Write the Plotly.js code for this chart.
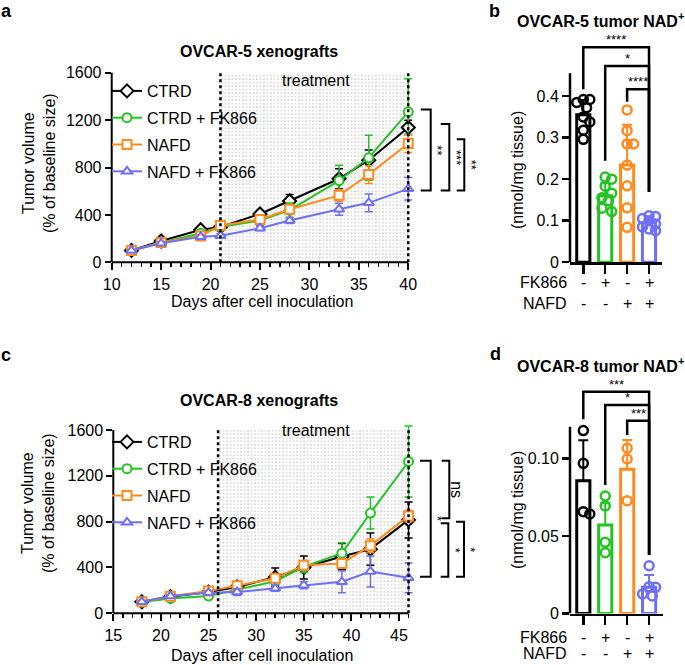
<!DOCTYPE html>
<html><head><meta charset="utf-8">
<script src="https://cdn.plot.ly/plotly-3.0.1.min.js"></script>
<style>html,body{margin:0;padding:0;background:#fff}</style>
</head><body><div id="chart" style="width:685px;height:665px"></div>
<script>
// ---------------- data ----------------
const seriesNames = ['CTRD', 'CTRD + FK866', 'NAFD', 'NAFD + FK866'];
const seriesColors = ['#000000', '#22c322', '#ff8b1f', '#6f6ff5'];
const seriesSymbols = ['diamond', 'circle', 'square', 'triangle-up'];

// Panel a: OVCAR-5 xenografts
const daysA = [12, 15, 19, 21, 25, 28, 33, 36, 40];
const ctrdA = [100, 180, 275, 298, 408, 518, 705, 862, 1138];
const ctrdFkA = [100, 165, 245, 300, 352, 440, 690, 882, 1270];
const nafdA = [100, 168, 222, 310, 362, 448, 565, 740, 1002];
const nafdFkA = [100, 160, 215, 225, 288, 352, 448, 502, 620];
const ctrdAErr = [6, 12, 18, 18, 22, 55, 85, 85, 60];
const ctrdFkAErr = [6, 12, 20, 20, 30, 60, 130, 190, 280];
const nafdAErr = [6, 12, 20, 20, 25, 35, 50, 75, 75];
const nafdFkAErr = [6, 12, 15, 15, 20, 25, 50, 75, 95];
const treatmentA = [21, 40];

// Panel c: OVCAR-8 xenografts
const daysC = [18, 21, 25, 28, 32, 35, 39, 42, 46];
const ctrdC = [100, 145, 185, 230, 315, 400, 495, 560, 815];
const ctrdFkC = [98, 130, 150, 205, 280, 405, 525, 875, 1325];
const nafdC = [100, 148, 195, 240, 305, 420, 435, 590, 850];
const nafdFkC = [100, 150, 180, 185, 218, 245, 275, 365, 310];
const ctrdCErr = [6, 12, 15, 30, 80, 100, 115, 140, 157];
const ctrdFkCErr = [6, 12, 15, 20, 30, 50, 90, 140, 310];
const nafdCErr = [6, 12, 15, 20, 30, 40, 40, 60, 50];
const nafdFkCErr = [6, 12, 15, 30, 25, 30, 95, 135, 130];
const treatmentC = [26, 46];

const volTicks = [0, 400, 800, 1200, 1600];

// Significance (a, c): bracket top / bottom values and labels
const sigTopA = [1290, 1167, 1038];
const sigBotA = [605, 605, 605];
const sigLabA = ['**', '***', '**'];
const sigTopC = [1332, 1332, 786, 800];
const sigBotC = [319, 829, 319, 319];
const sigLabC = ['*', 'ns', '*', '*'];

// Panel b: OVCAR-5 tumor NAD+
const fkRow = ['-', '+', '-', '+'];
const nafdRow = ['-', '-', '+', '+'];
const meanB = [0.355, 0.16, 0.234, 0.095];
const sdB = [0.036, 0.03, 0.097, 0.014];
const ptsB0 = [0.392, 0.392, 0.385, 0.372, 0.35, 0.338, 0.318, 0.296];
const ptsB1 = [0.205, 0.2, 0.183, 0.166, 0.155, 0.148, 0.13, 0.122];
const ptsB2 = [0.367, 0.317, 0.285, 0.285, 0.234, 0.184, 0.131, 0.084];
const ptsB3 = [0.112, 0.11, 0.105, 0.1, 0.092, 0.085, 0.08, 0.076];
const ticksB = [0, 0.1, 0.2, 0.3, 0.4];
const sigPairB = [[0, 3], [1, 3], [2, 3]];
const sigLevelB = [0.518, 0.473, 0.4166];
const sigLegB = [0.4166, 0.2446, 0.3867];
const sigRightB = 0.17;
const sigLabB = ['****', '*', '****'];

// Panel d: OVCAR-8 tumor NAD+
const meanD = [0.0857, 0.0571, 0.093, 0.0169];
const sdD = [0.026, 0.014, 0.019, 0.008];
const ptsD0 = [0.118, 0.0969, 0.0657, 0.0642];
const ptsD1 = [0.0758, 0.0694, 0.0459, 0.0392];
const ptsD2 = [0.1066, 0.0997, 0.0728];
const ptsD3 = [0.0308, 0.0173, 0.0169, 0.0126, 0.0113];
const ticksD = [0, 0.05, 0.10];
const tickTextD = ['0', '0.05', '0.10'];
const sigPairD = [[0, 3], [1, 3], [2, 3]];
const sigLevelD = [0.1431, 0.1345, 0.1244];
const sigLegD = [0.1253, 0.0829, 0.1152];
const sigRightD = 0.0377;
const sigLabD = ['***', '*', '***'];

// ---------------- layout helpers ----------------
const W = 685, H = 665;
const px = x => x / W;
const py = y => 1 - y / H;
const FONT = 'Arial, "Liberation Sans", Helvetica, sans-serif';

const dom = {
  a: {x: [111.7, 413.2], y: [262.3, 66.8], xr: [10, 40.5], yr: [0, 1650]},
  c: {x: [113.3, 413.3], y: [613.3, 418.5], xr: [15, 46.5], yr: [0, 1700]},
  b: {x: [570, 662.3], y: [262.2, 36.0], xr: [-0.607, 3.607], yr: [0, 0.545]},
  d: {x: [570, 662.7], y: [613.5, 381.0], xr: [-0.607, 3.62], yr: [0, 0.15]}
};

const traces = [];
const shapes = [];
const annotations = [];

function ann(text, x, y, size, extra) {
  annotations.push(Object.assign({
    text: text, x: px(x), y: py(y), xref: 'paper', yref: 'paper',
    showarrow: false, xanchor: 'center', yanchor: 'middle',
    font: {family: FONT, size: size, color: '#000'}
  }, extra || {}));
}

// ---------------- line panels ----------------
function linePanel(days, series, errs, treat, xa, ya, legendName, sigTop, sigBot, sigLab, sigX) {
  const top = volTicks[volTicks.length - 1];
  // treatment shading (dotted texture)
  traces.push({
    type: 'scatter', mode: 'none', x: [treat[0], treat[1], treat[1], treat[0], treat[0]],
    y: [0, 0, top, top, 0],
    fill: 'toself', fillcolor: 'rgba(255,255,255,0)',
    fillpattern: {shape: '.', fgcolor: '#bcbcbc', bgcolor: '#ffffff', size: 3.5, solidity: 0.14},
    xaxis: xa, yaxis: ya, showlegend: false, hoverinfo: 'skip'
  });
  series.forEach((s, i) => {
    traces.push({
      type: 'scatter', mode: 'lines+markers', name: seriesNames[i], legendgroup: legendName + i,
      x: days, y: s, xaxis: xa, yaxis: ya, legend: legendName,
      line: {color: seriesColors[i], width: 2},
      marker: {symbol: seriesSymbols[i], size: i === 0 ? 10 : 9, color: '#ffffff',
               line: {color: seriesColors[i], width: 2}},
      error_y: {type: 'data', array: errs[i], visible: true, color: seriesColors[i], thickness: 1.5, width: 4},
      cliponaxis: false
    });
  });
  // dotted treatment boundaries
  treat.forEach(t => shapes.push({
    type: 'line', xref: xa, yref: ya, x0: t, x1: t, y0: 0, y1: top,
    line: {color: '#000', width: 2.5, dash: 'dot'}
  }));
  // axis lines
  shapes.push({type: 'line', xref: xa, yref: ya + ' domain', x0: days[0] - (days[0] % 5), x1: treat[1], y0: 0, y1: 0,
               line: {color: '#000', width: 2}});
  shapes.push({type: 'line', xref: xa + ' domain', yref: ya, x0: 0, x1: 0, y0: 0, y1: top,
               line: {color: '#000', width: 2}});
  // significance brackets
  sigTop.forEach((t, k) => {
    const x0 = px(sigX[k][0]), x1 = px(sigX[k][1]);
    shapes.push({type: 'path', xref: 'paper', yref: ya,
      path: `M ${x0} ${t} L ${x1} ${t} L ${x1} ${sigBot[k]} L ${x0} ${sigBot[k]}`,
      line: {color: '#000', width: 2}});
    annotations.push({text: sigLab[k], xref: 'paper', yref: ya, x: px(sigX[k][1] + 7), y: (t + sigBot[k]) / 2,
      textangle: 90, showarrow: false, xanchor: 'center', yanchor: 'middle',
      font: {family: FONT, size: sigLab[k] === 'ns' ? 16 : 13, color: '#000'}});
  });
}

linePanel(daysA, [ctrdA, ctrdFkA, nafdA, nafdFkA], [ctrdAErr, ctrdFkAErr, nafdAErr, nafdFkAErr],
  treatmentA, 'x', 'y', 'legend', sigTopA, sigBotA, sigLabA,
  [[420.7, 430.7], [440.7, 449.3], [456.7, 464.3]]);
linePanel(daysC, [ctrdC, ctrdFkC, nafdC, nafdFkC], [ctrdCErr, ctrdFkCErr, nafdCErr, nafdFkCErr],
  treatmentC, 'x3', 'y3', 'legend2', sigTopC, sigBotC, sigLabC,
  [[420, 430.7], [441.7, 449.3], [440.7, 448.3], [456, 464]]);

// ---------------- bar panels ----------------
function swarm(vals, center, d, kx, ky, maxOff) {
  // simple beeswarm in pixel space; allows slight overlap when crowded
  const order = vals.map((v, i) => i).sort((a, b) => vals[b] - vals[a]);
  const placed = [];
  const xs = new Array(vals.length);
  const step = maxOff / 2;
  const cands = [0, step, -step, 2 * step, -2 * step];
  order.forEach(i => {
    const yp = vals[i] * ky;
    let chosen = null, best = -1, bestC = 0;
    for (const c of cands) {
      const md = placed.length ? Math.min(...placed.map(p => Math.hypot(p.x - c, p.y - yp))) : Infinity;
      if (md >= d * 0.95) { chosen = c; break; }
      if (md > best + 0.5) { best = md; bestC = c; }
    }
    if (chosen === null) chosen = bestC;
    placed.push({x: chosen, y: yp});
    xs[i] = center + chosen / kx;
  });
  return xs;
}

function barPanel(key, means, sds, pts, xa, ya, sigPair, sigLevel, sigLeg, sigRight, sigLab) {
  const D = dom[key];
  const kx = (D.x[1] - D.x[0]) / (D.xr[1] - D.xr[0]);
  const ky = (D.y[0] - D.y[1]) / (D.yr[1] - D.yr[0]);
  means.forEach((m, i) => {
    traces.push({
      type: 'bar', x: [i], y: [m], width: 0.6, xaxis: xa, yaxis: ya, showlegend: false,
      marker: {color: '#ffffff', line: {color: seriesColors[i], width: 3}},
      error_y: {type: 'data', symmetric: false, array: [sds[i]], arrayminus: [0],
                color: seriesColors[i], thickness: 2, width: 5},
      hoverinfo: 'skip'
    });
  });
  pts.forEach((p, i) => {
    traces.push({
      type: 'scatter', mode: 'markers', x: swarm(p, i, 9.5, kx, ky, 6.5), y: p,
      xaxis: xa, yaxis: ya, showlegend: false, cliponaxis: false,
      marker: {symbol: 'circle-open', size: 9, color: seriesColors[i], line: {color: seriesColors[i], width: 2.5}}
    });
  });
  sigPair.forEach((pr, k) => {
    shapes.push({type: 'path', xref: xa, yref: ya,
      path: `M ${pr[0]} ${sigLeg[k]} L ${pr[0]} ${sigLevel[k]} L ${pr[1]} ${sigLevel[k]} L ${pr[1]} ${sigRight}`,
      line: {color: '#000', width: 2.5}});
    annotations.push({text: sigLab[k], xref: xa, yref: ya, x: (pr[0] + pr[1]) / 2, y: sigLevel[k],
      showarrow: false, xanchor: 'center', yanchor: 'bottom', yshift: -2,
      font: {family: FONT, size: 13, color: '#000'}});
  });
}

barPanel('b', meanB, sdB, [ptsB0, ptsB1, ptsB2, ptsB3], 'x2', 'y2', sigPairB, sigLevelB, sigLegB, sigRightB, sigLabB);
barPanel('d', meanD, sdD, [ptsD0, ptsD1, ptsD2, ptsD3], 'x4', 'y4', sigPairD, sigLevelD, sigLegD, sigRightD, sigLabD);

// bar y-axis lines (only up to the axis top)
shapes.push({type: 'line', xref: 'x2 domain', yref: 'y2', x0: 0, x1: 0, y0: 0, y1: 0.455, line: {color: '#000', width: 2.5}});
shapes.push({type: 'line', xref: 'x4 domain', yref: 'y4', x0: 0, x1: 0, y0: 0, y1: 0.1205, line: {color: '#000', width: 2.5}});

// treatment row labels under bar panels
function rowLabels(xa, yFk, yNafd) {
  fkRow.forEach((t, i) => annotations.push({text: t, xref: xa, yref: 'paper', x: i, y: py(yFk), showarrow: false,
    xanchor: 'center', yanchor: 'middle', font: {family: FONT, size: 16, color: '#000'}}));
  nafdRow.forEach((t, i) => annotations.push({text: t, xref: xa, yref: 'paper', x: i, y: py(yNafd), showarrow: false,
    xanchor: 'center', yanchor: 'middle', font: {family: FONT, size: 16, color: '#000'}}));
  ann('FK866', 569, yFk, 16, {xanchor: 'right'});
  ann('NAFD', 569, yNafd, 16, {xanchor: 'right'});
}
rowLabels('x2', 282.7, 303.3);
rowLabels('x4', 637.3, 653.3);

// ---------------- texts ----------------
ann('<b>a</b>', 6, 11, 18);
ann('<b>b</b>', 494, 11, 18);
ann('<b>c</b>', 6, 355, 18);
ann('<b>d</b>', 495, 354, 18);
ann('<b>OVCAR-5 xenografts</b>', 258.5, 52, 16);
ann('<b>OVCAR-8 xenografts</b>', 258.5, 400, 16);
ann('<b>OVCAR-5 tumor NAD<sup>+</sup></b>', 601, 20, 16);
ann('<b>OVCAR-8 tumor NAD<sup>+</sup></b>', 601, 365, 16);
ann('treatment', 316, 80, 16);
ann('treatment', 316, 430, 16);
ann('Tumor volume<br>(% of baseline size)', 39, 163, 16, {textangle: -90});
ann('Tumor volume<br>(% of baseline size)', 38, 503, 16, {textangle: -90});
ann('Days after cell inoculation', 262, 302, 16);
ann('Days after cell inoculation', 262, 655, 16);
ann('(nmol/mg tissue)', 517, 170, 16, {textangle: -90});
ann('(nmol/mg tissue)', 517, 510, 16, {textangle: -90});

// ---------------- axes ----------------
const tickFont = {family: FONT, size: 16, color: '#000'};
function lineX(key, ticks) {
  const D = dom[key];
  return {domain: [px(D.x[0]), px(D.x[1])], range: D.xr, showline: false, showgrid: false, zeroline: false,
    tickvals: ticks, ticks: 'outside', ticklen: 7, tickwidth: 2, tickcolor: '#000', tickfont: tickFont,
    minor: {dtick: 1, tick0: 0, ticks: 'outside', ticklen: 4, tickwidth: 1.5, tickcolor: '#000', showgrid: false},
    fixedrange: true};
}
function lineY(key, anchor) {
  const D = dom[key];
  return {domain: [py(D.y[0]), py(D.y[1])], range: D.yr, showline: false, showgrid: false, zeroline: false,
    tickvals: volTicks, ticks: 'outside', ticklen: 6, tickwidth: 2, tickcolor: '#000', tickfont: tickFont,
    anchor: anchor, fixedrange: true};
}
function barX(key, anchor) {
  const D = dom[key];
  return {domain: [px(D.x[0]), px(D.x[1])], range: D.xr, showline: true, linewidth: 2.5, linecolor: '#000',
    showgrid: false, zeroline: false, tickvals: [0, 1, 2, 3], ticks: 'outside', ticklen: 9, tickwidth: 2.5,
    tickcolor: '#000', showticklabels: false, anchor: anchor, fixedrange: true};
}
function barY(key, anchor, tv, tt) {
  const D = dom[key];
  return {domain: [py(D.y[0]), py(D.y[1])], range: D.yr, showline: false, showgrid: false, zeroline: false,
    tickvals: tv, ticktext: tt, ticks: 'outside', ticklen: 7, tickwidth: 2.5, tickcolor: '#000', tickfont: tickFont,
    anchor: anchor, fixedrange: true};
}

const legendBase = {xanchor: 'left', yanchor: 'top', bgcolor: 'rgba(0,0,0,0)',
  font: {family: FONT, size: 16, color: '#000'}, itemwidth: 30, tracegroupgap: 3};

const layout = {
  width: W, height: H, margin: {l: 0, r: 0, t: 0, b: 0},
  paper_bgcolor: '#fff', plot_bgcolor: 'rgba(0,0,0,0)',
  font: {family: FONT, size: 16, color: '#000'},
  showlegend: true, bargap: 0,
  xaxis: Object.assign(lineX('a', [10, 15, 20, 25, 30, 35, 40]), {anchor: 'y'}),
  yaxis: lineY('a', 'x'),
  xaxis3: Object.assign(lineX('c', [15, 20, 25, 30, 35, 40, 45]), {anchor: 'y3'}),
  yaxis3: lineY('c', 'x3'),
  xaxis2: barX('b', 'y2'),
  yaxis2: barY('b', 'x2', ticksB, ticksB.map(String)),
  xaxis4: barX('d', 'y4'),
  yaxis4: barY('d', 'x4', ticksD, tickTextD),
  legend: Object.assign({x: px(107), y: py(74)}, legendBase),
  legend2: Object.assign({x: px(107), y: py(425)}, legendBase),
  shapes: shapes, annotations: annotations
};

Plotly.newPlot('chart', traces, layout, {staticPlot: true, displayModeBar: false});
</script></body></html>
